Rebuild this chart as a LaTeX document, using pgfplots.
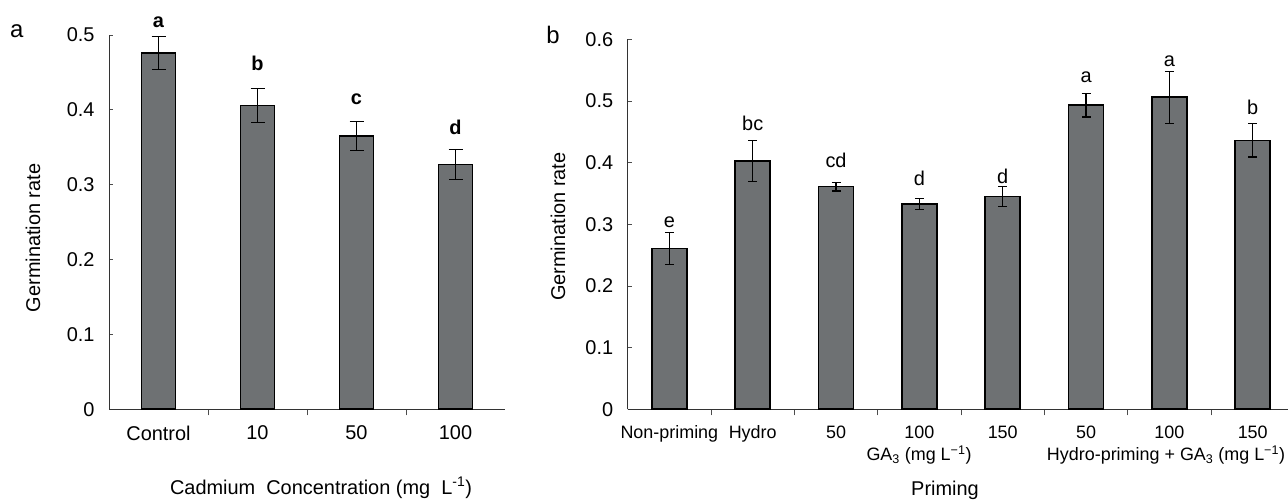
\documentclass[border=0pt]{standalone}
\usepackage{pgfplots}
\pgfplotsset{compat=1.18}
\usepackage{pgfplotstable}
\usepackage{fontspec}
\setmainfont{Liberation Sans}
\definecolor{barfill}{RGB}{110,113,115}

\pgfplotstableread{
x y e
0 0.476 0.022
1 0.406 0.023
2 0.365 0.019
3 0.327 0.020
}\dataA
\pgfplotstableread{
x y e
0 0.261 0.026
1 0.403 0.033
2 0.361 0.007
3 0.333 0.009
4 0.345 0.016
5 0.493 0.019
6 0.506 0.042
7 0.436 0.027
}\dataB

\pgfplotsset{
  myaxis/.style={
    scale only axis, anchor=south west,
    axis x line=bottom, axis y line=left,
    axis line style={-, line width=1bp, black!80},
    ymin=0,
    major x tick style={draw=none},
    tick align=inside,
    major tick length=4bp, minor tick length=6bp,
    every tick/.style={black!70, line width=0.8bp},
    clip=false,
    /pgf/number format/assume math mode=true,
    tick label style={font=\fontsize{20}{23}\selectfont},
    yticklabel style={xshift=-11bp},
    xticklabel style={yshift=-9bp},
    ybar,
  }
}

\begin{document}
\begin{tikzpicture}[font=\fontsize{20}{23}\selectfont]
\useasboundingbox (0,0) rectangle (1288bp,502bp);

% Panel a
\begin{axis}[myaxis,
  at={(109bp,92.7bp)}, width=396bp, height=374.3bp,
  xmin=-0.5, xmax=3.5, ymax=0.5,
  ytick={0,0.1,0.2,0.3,0.4,0.5},
  xtick={0,1,2,3}, xticklabels={Control,10,50,100},
  minor xtick={0.5,1.5,2.5},
  bar width=34bp,
]
\addplot[fill=barfill, draw=black, line width=1.6bp,
  error bars/.cd, y dir=both, y explicit,
  error bar style={line width=1.2bp, black},
  error mark options={rotate=90, line width=1.2bp, mark size=7bp, black}]
  table[x=x, y=y, y error=e] {\dataA};
\node[font=\fontsize{20}{23}\selectfont\bfseries] at (axis cs:0,0.5175) {a};
\node[font=\fontsize{20}{23}\selectfont\bfseries] at (axis cs:1,0.4623) {b};
\node[font=\fontsize{20}{23}\selectfont\bfseries] at (axis cs:2,0.4143) {c};
\node[font=\fontsize{20}{23}\selectfont\bfseries] at (axis cs:3,0.3769) {d};
\end{axis}

% Panel b
\begin{axis}[myaxis,
  at={(627.7bp,92.7bp)}, width=660bp, height=370bp,
  xmin=-0.5, xmax=7.42, ymax=0.6,
  ytick={0,0.1,0.2,0.3,0.4,0.5,0.6},
  xtick={0,1,2,3,4,5,6,7},
  xticklabels={Non-priming,Hydro,50,100,150,50,100,150},
  xticklabel style={font=\fontsize{18}{21}\selectfont},
  minor xtick={0.5,1.5,2.5,3.5,4.5,5.5,6.5},
  bar width=35bp,
]
\addplot[fill=barfill, draw=black, line width=1.6bp,
  error bars/.cd, y dir=both, y explicit,
  error bar style={line width=1.2bp, black},
  error mark options={rotate=90, line width=1.2bp, mark size=4.5bp, black}]
  table[x=x, y=y, y error=e] {\dataB};
\node at (axis cs:0,0.3026) {e};
\node at (axis cs:1,0.4638) {bc};
\node at (axis cs:2,0.4031) {cd};
\node at (axis cs:3,0.3746) {d};
\node at (axis cs:4,0.3772) {d};
\node at (axis cs:5,0.5384) {a};
\node at (axis cs:6,0.5637) {a};
\node at (axis cs:7,0.4897) {b};
\end{axis}

% Panel letters and axis titles
\node[font=\fontsize{24}{27}\selectfont] at (16.7bp,471bp) {a};
\node[font=\fontsize{24}{27}\selectfont] at (553bp,467bp) {b};
\node[rotate=90] at (33bp,264bp) {Germination rate};
\node[rotate=90] at (558bp,275.3bp) {Germination rate};
\node at (321bp,14bp) {Cadmium\ \ Concentration (mg\ \ L\textsuperscript{-1})};
\node[font=\fontsize{18}{21}\selectfont] at (919bp,47bp) {GA\textsubscript{3} (mg L\textsuperscript{\char"2212 1})};
\node[font=\fontsize{18}{21}\selectfont] at (1166bp,47bp) {Hydro-priming + GA\textsubscript{3} (mg L\textsuperscript{\char"2212 1})};
\node at (945bp,12bp) {Priming};
\end{tikzpicture}
\end{document}
